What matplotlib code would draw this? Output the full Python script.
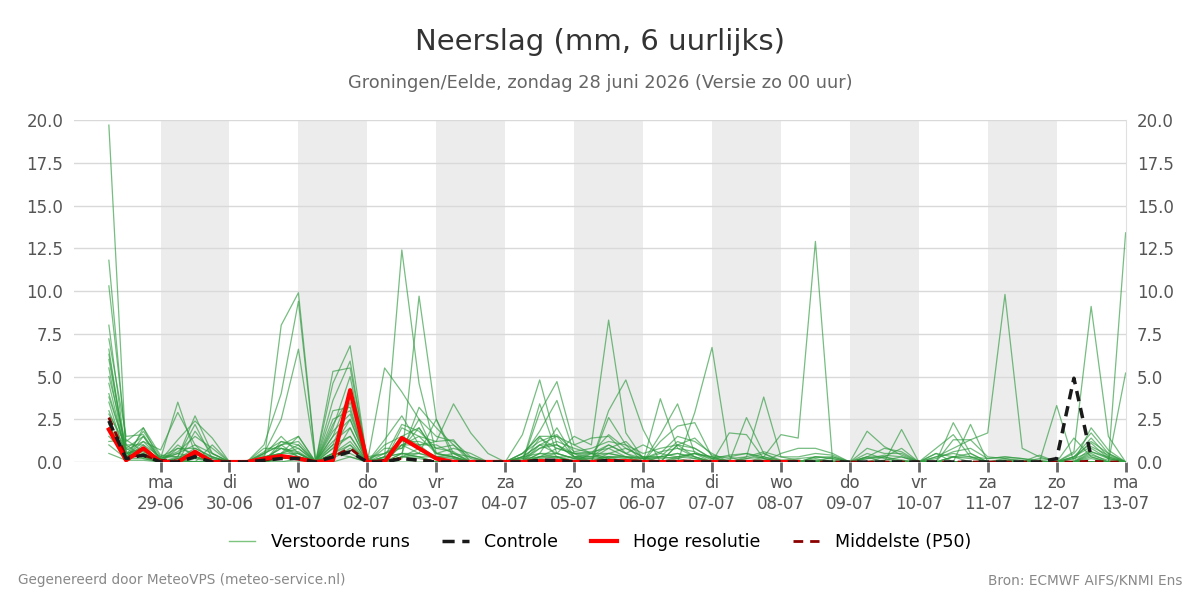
import numpy as np
import pandas as pd
import matplotlib
matplotlib.use("Agg")
import matplotlib.pyplot as plt
from matplotlib.lines import Line2D

# 6-hourly time steps, 28-06 06:00 .. 13-07 00:00
times = pd.date_range("2026-06-28 06:00", periods=60, freq="6h")

# perturbed ensemble members (mm per 6 h)
runs = [
    [19.7, 0.5, 0.3, 0.0, 0.2, 0.0, 0.0, 0.0, 0.0, 0.2, 0.5, 1.5, 0.0, 2.5, 3.0, 0.0,
     0.3, 12.4, 4.6, 0.5, 0.3, 0.0, 0.0, 0.0, 0.3, 1.0, 0.5, 0.2, 0.1, 0.3, 0.2, 0.0,
     0.3, 0.2, 0.0, 0.0, 0.1, 0.0, 0.0, 0.0, 0.0, 0.2, 0.0, 0.0, 0.0, 0.0, 0.1, 0.0,
     0.0, 0.3, 0.2, 0.0, 0.1, 0.0, 0.0, 0.0, 0.3, 1.1, 0.2, 0.0],
    [11.8, 0.8, 1.5, 0.2, 3.5, 0.5, 0.2, 0.0, 0.0, 0.0, 8.0, 9.9, 0.1, 1.0, 1.5, 0.0,
     0.0, 1.0, 0.5, 0.2, 0.0, 0.0, 0.0, 0.0, 0.0, 0.3, 0.5, 1.5, 1.0, 8.3, 1.7, 0.2,
     0.0, 0.3, 0.5, 0.2, 0.0, 0.0, 0.2, 0.0, 0.1, 0.0, 0.0, 0.0, 0.2, 0.3, 0.1, 0.0,
     0.0, 0.0, 0.0, 0.0, 0.0, 0.0, 0.2, 0.1, 0.0, 0.4, 0.1, 0.0],
    [10.3, 1.2, 2.0, 0.4, 0.3, 2.7, 0.5, 0.0, 0.0, 1.0, 4.0, 9.4, 0.0, 0.5, 0.3, 0.0,
     0.0, 0.2, 9.7, 2.5, 0.5, 0.0, 0.0, 0.0, 0.5, 1.5, 0.3, 0.0, 0.0, 0.5, 0.3, 0.0,
     0.0, 1.0, 0.3, 0.0, 1.7, 1.6, 0.2, 0.0, 0.0, 0.1, 0.0, 0.0, 0.0, 0.1, 0.3, 0.0,
     0.8, 1.6, 0.3, 0.0, 0.0, 0.0, 0.0, 0.0, 0.2, 0.6, 0.3, 0.0],
    [8.0, 0.3, 1.2, 0.7, 2.9, 1.0, 0.0, 0.0, 0.0, 0.5, 2.5, 6.6, 0.0, 5.3, 5.5, 0.2,
     0.0, 2.0, 1.5, 1.2, 3.4, 1.7, 0.5, 0.0, 0.0, 2.9, 4.7, 1.0, 0.5, 0.2, 0.0, 0.0,
     3.7, 0.8, 0.3, 0.0, 0.0, 0.2, 0.5, 0.1, 0.0, 0.0, 0.3, 0.0, 1.8, 0.9, 0.4, 0.0,
     0.0, 0.0, 0.0, 0.0, 0.0, 0.0, 0.4, 0.0, 0.0, 2.0, 0.7, 0.0],
    [7.2, 1.5, 1.6, 0.1, 1.3, 2.4, 1.4, 0.0, 0.0, 0.0, 1.2, 1.0, 0.0, 4.6, 6.8, 0.0,
     5.5, 4.1, 2.5, 0.3, 0.2, 0.0, 0.0, 0.0, 1.6, 4.8, 1.0, 0.3, 0.0, 0.3, 0.0, 0.0,
     0.0, 0.0, 2.9, 6.7, 0.3, 0.0, 0.0, 0.0, 0.0, 0.0, 0.0, 0.0, 0.0, 0.0, 0.0, 0.0,
     0.0, 2.3, 0.5, 0.0, 0.0, 0.0, 0.0, 0.0, 0.6, 9.1, 1.5, 0.0],
    [6.6, 0.2, 0.5, 0.0, 0.0, 0.0, 0.0, 0.0, 0.0, 0.4, 1.5, 0.5, 0.0, 3.6, 5.9, 0.0,
     0.0, 0.5, 3.2, 2.0, 1.0, 0.0, 0.0, 0.0, 0.0, 3.4, 0.5, 0.2, 0.0, 3.0, 4.8, 1.9,
     0.0, 0.0, 0.0, 0.0, 0.0, 2.6, 0.5, 0.0, 0.0, 0.0, 0.0, 0.0, 0.0, 0.0, 0.0, 0.0,
     0.5, 0.0, 0.0, 0.0, 0.0, 0.0, 0.0, 3.3, 0.0, 0.2, 0.0, 13.4],
    [6.0, 0.5, 0.8, 0.0, 0.0, 1.8, 0.5, 0.0, 0.0, 0.0, 1.0, 1.5, 0.0, 2.0, 5.0, 0.0,
     1.3, 2.7, 1.0, 0.2, 0.0, 0.0, 0.0, 0.0, 0.3, 1.8, 3.6, 0.5, 0.0, 2.6, 1.0, 0.0,
     1.6, 3.4, 0.5, 0.0, 0.0, 0.0, 0.0, 0.0, 0.0, 0.0, 0.0, 0.0, 0.0, 0.0, 1.9, 0.0,
     0.0, 0.0, 2.2, 0.0, 0.0, 0.0, 0.0, 0.0, 0.0, 0.5, 0.0, 5.2],
    [5.5, 0.1, 2.0, 0.0, 0.8, 0.5, 0.0, 0.0, 0.0, 0.8, 0.8, 0.3, 0.0, 1.5, 4.0, 0.0,
     1.0, 1.5, 1.0, 1.2, 1.3, 0.0, 0.0, 0.0, 0.0, 1.0, 1.5, 1.0, 1.4, 1.5, 0.5, 0.0,
     1.2, 2.1, 2.3, 0.3, 0.0, 0.3, 3.8, 0.3, 0.1, 0.0, 0.0, 0.0, 0.5, 0.2, 0.0, 0.0,
     0.0, 0.3, 0.0, 0.0, 0.0, 0.0, 0.0, 0.0, 1.4, 0.3, 0.0, 0.0],
    [5.0, 1.0, 1.0, 0.0, 0.0, 0.0, 1.0, 0.0, 0.0, 0.0, 0.2, 0.3, 0.0, 0.5, 1.2, 0.0,
     0.0, 0.3, 0.2, 0.0, 0.0, 0.0, 0.0, 0.0, 0.0, 0.5, 0.3, 0.0, 0.5, 0.0, 0.0, 0.0,
     0.0, 0.0, 0.0, 0.0, 0.0, 0.0, 0.3, 1.6, 1.4, 12.9, 0.0, 0.0, 0.0, 0.0, 0.0, 0.0,
     0.0, 0.0, 0.0, 0.0, 0.0, 0.0, 0.0, 0.0, 0.0, 0.0, 0.0, 0.0],
    [4.6, 0.3, 0.6, 0.2, 0.5, 0.3, 0.0, 0.0, 0.0, 0.3, 0.5, 0.8, 0.0, 1.0, 3.5, 0.2,
     0.5, 1.0, 1.5, 0.5, 0.8, 0.5, 0.0, 0.0, 0.3, 0.5, 2.0, 0.3, 0.3, 1.0, 0.5, 1.0,
     0.5, 1.5, 1.2, 0.5, 0.0, 0.0, 0.0, 0.5, 0.8, 0.8, 0.5, 0.0, 0.0, 0.0, 0.0, 0.0,
     0.0, 1.3, 1.3, 1.7, 9.8, 0.8, 0.3, 0.0, 0.0, 0.0, 0.0, 0.0],
    [4.0, 0.6, 0.4, 0.0, 0.3, 2.2, 0.2, 0.0, 0.0, 0.0, 0.3, 0.5, 0.0, 0.8, 2.5, 0.0,
     0.5, 0.8, 2.0, 0.5, 0.3, 0.0, 0.0, 0.0, 0.0, 0.8, 1.0, 0.3, 0.2, 0.8, 0.3, 0.2,
     0.3, 0.5, 0.2, 0.0, 0.0, 0.0, 0.0, 0.0, 0.0, 0.3, 0.2, 0.0, 0.3, 0.0, 0.0, 0.0,
     0.3, 0.5, 0.3, 0.2, 0.3, 0.2, 0.1, 0.0, 0.5, 1.7, 0.5, 0.0],
    [3.5, 0.2, 1.5, 0.0, 1.0, 0.3, 0.0, 0.0, 0.0, 0.0, 0.3, 0.3, 0.1, 1.2, 2.0, 0.0,
     0.3, 0.5, 0.5, 2.5, 0.2, 0.0, 0.0, 0.0, 0.2, 0.3, 0.8, 0.5, 0.3, 0.5, 0.8, 0.3,
     0.0, 0.2, 0.5, 0.3, 0.0, 0.0, 0.0, 0.0, 0.0, 0.0, 0.0, 0.0, 0.0, 0.0, 0.0, 0.0,
     0.0, 0.0, 0.0, 0.0, 0.0, 0.0, 0.0, 0.0, 0.3, 1.4, 0.3, 0.0],
    [3.0, 0.5, 0.8, 0.1, 0.5, 1.0, 0.5, 0.0, 0.0, 0.2, 0.8, 0.5, 0.0, 0.8, 1.5, 0.0,
     0.3, 0.5, 0.3, 0.3, 0.5, 0.3, 0.0, 0.0, 0.5, 1.5, 1.5, 0.3, 0.5, 1.0, 0.5, 0.2,
     0.5, 0.3, 0.5, 0.3, 0.3, 0.5, 0.2, 0.0, 0.0, 0.3, 0.3, 0.0, 0.3, 0.3, 0.8, 0.0,
     0.5, 0.3, 0.3, 0.0, 0.2, 0.0, 0.0, 0.0, 0.0, 0.3, 0.0, 0.0],
    [2.8, 1.0, 0.3, 0.0, 0.0, 0.3, 0.0, 0.0, 0.0, 0.5, 1.0, 0.3, 0.0, 0.5, 1.0, 0.0,
     0.2, 1.5, 2.0, 0.5, 0.3, 0.0, 0.0, 0.0, 0.0, 0.5, 0.5, 0.2, 0.2, 0.3, 0.3, 0.0,
     0.0, 1.0, 0.8, 0.2, 0.1, 0.0, 0.0, 0.0, 0.0, 0.0, 0.0, 0.0, 0.0, 0.0, 0.0, 0.0,
     0.0, 0.0, 0.0, 0.0, 0.0, 0.0, 0.0, 0.0, 0.0, 0.8, 0.2, 0.0],
    [2.5, 0.3, 1.0, 0.3, 0.3, 0.5, 0.3, 0.0, 0.0, 0.3, 0.5, 1.0, 0.0, 1.5, 2.5, 0.0,
     0.0, 1.0, 1.0, 1.0, 0.5, 0.0, 0.0, 0.0, 0.3, 1.0, 1.0, 0.5, 0.5, 0.5, 0.3, 0.3,
     0.3, 0.5, 0.3, 0.0, 0.0, 0.0, 0.0, 0.0, 0.0, 0.0, 0.0, 0.0, 0.0, 0.3, 0.0, 0.0,
     0.0, 0.0, 0.0, 0.0, 0.0, 0.0, 0.0, 0.0, 0.0, 0.0, 0.0, 0.0],
    [2.2, 0.2, 0.5, 0.0, 0.2, 0.5, 0.0, 0.0, 0.0, 0.0, 0.2, 0.3, 0.0, 0.3, 1.0, 0.0,
     0.0, 0.3, 0.5, 0.3, 0.3, 0.0, 0.0, 0.0, 0.0, 0.3, 0.3, 0.1, 0.0, 0.0, 0.0, 0.0,
     0.0, 0.0, 0.0, 0.0, 0.0, 0.0, 0.0, 0.0, 0.0, 0.0, 0.0, 0.0, 0.0, 0.0, 0.0, 0.0,
     0.0, 0.0, 0.0, 0.0, 0.0, 0.0, 0.0, 0.0, 0.0, 0.0, 0.0, 0.0],
    [2.0, 0.8, 0.2, 0.0, 0.0, 0.0, 0.0, 0.0, 0.0, 0.0, 0.0, 0.2, 0.0, 0.3, 2.0, 0.0,
     0.0, 0.3, 0.8, 0.3, 0.0, 0.0, 0.0, 0.0, 0.0, 0.3, 0.3, 0.3, 0.3, 0.3, 0.3, 0.2,
     0.2, 0.3, 0.2, 0.0, 0.0, 0.0, 0.0, 0.0, 0.0, 0.0, 0.0, 0.0, 0.0, 0.0, 0.0, 0.0,
     0.0, 0.0, 0.0, 0.0, 0.0, 0.0, 0.0, 0.0, 0.0, 0.0, 0.0, 0.0],
    [1.5, 0.5, 0.3, 0.0, 0.0, 0.2, 0.0, 0.0, 0.0, 0.3, 0.5, 0.5, 0.0, 0.5, 0.5, 0.0,
     0.0, 0.3, 0.3, 0.0, 0.0, 0.0, 0.0, 0.0, 0.0, 0.2, 0.3, 0.0, 0.0, 0.0, 0.0, 0.0,
     0.0, 0.0, 0.0, 0.0, 0.0, 0.0, 0.0, 0.0, 0.0, 0.0, 0.0, 0.0, 0.0, 0.0, 0.0, 0.0,
     0.0, 0.0, 0.0, 0.0, 0.0, 0.0, 0.0, 0.0, 0.0, 0.0, 0.0, 0.0],
    [1.0, 0.2, 0.2, 0.0, 0.0, 0.0, 0.0, 0.0, 0.0, 0.0, 0.3, 0.2, 0.0, 0.2, 0.8, 0.0,
     0.0, 0.5, 0.3, 0.0, 0.0, 0.0, 0.0, 0.0, 0.0, 0.0, 0.2, 0.0, 0.0, 0.2, 0.0, 0.0,
     0.0, 0.0, 0.0, 0.0, 0.0, 0.0, 0.0, 0.0, 0.0, 0.0, 0.0, 0.0, 0.0, 0.0, 0.0, 0.0,
     0.0, 0.0, 0.0, 0.0, 0.0, 0.0, 0.0, 0.0, 0.0, 0.0, 0.0, 0.0],
    [0.5, 0.1, 0.1, 0.0, 0.0, 0.0, 0.0, 0.0, 0.0, 0.0, 0.0, 0.0, 0.0, 0.0, 0.3, 0.0,
     0.0, 0.0, 0.0, 0.0, 0.0, 0.0, 0.0, 0.0, 0.0, 0.0, 0.0, 0.0, 0.0, 0.0, 0.0, 0.0,
     0.0, 0.0, 0.0, 0.0, 0.0, 0.0, 0.0, 0.0, 0.0, 0.0, 0.0, 0.0, 0.0, 0.0, 0.0, 0.0,
     0.0, 0.0, 0.0, 0.0, 0.0, 0.0, 0.0, 0.0, 0.0, 0.0, 0.0, 0.0],
    [3.8, 0.7, 1.2, 0.2, 0.6, 1.5, 0.8, 0.0, 0.0, 0.6, 1.2, 0.8, 0.0, 3.0, 3.2, 0.0,
     0.8, 0.8, 2.5, 1.5, 1.2, 0.3, 0.0, 0.0, 0.5, 1.2, 1.6, 0.6, 0.8, 1.2, 1.0, 0.5,
     0.8, 1.0, 1.4, 0.4, 0.2, 0.3, 0.6, 0.3, 0.3, 0.5, 0.4, 0.0, 0.8, 0.5, 0.5, 0.0,
     0.3, 0.8, 1.3, 0.3, 0.2, 0.1, 0.0, 0.0, 0.2, 1.2, 0.5, 0.0],
    [6.3, 0.4, 1.8, 0.3, 0.8, 0.8, 0.3, 0.0, 0.0, 0.5, 1.0, 1.2, 0.0, 2.2, 3.8, 0.3,
     0.5, 1.2, 1.2, 0.8, 1.0, 0.2, 0.0, 0.0, 0.2, 0.8, 1.2, 0.8, 0.5, 1.6, 0.8, 0.3,
     0.3, 1.2, 0.8, 0.2, 0.4, 0.5, 0.3, 0.1, 0.2, 0.3, 0.2, 0.0, 0.3, 0.8, 0.6, 0.0,
     0.2, 0.6, 0.8, 0.2, 0.3, 0.2, 0.0, 0.0, 0.3, 0.9, 0.4, 0.0],
    [1.2, 1.3, 0.6, 0.0, 0.2, 0.8, 0.3, 0.0, 0.0, 0.2, 0.8, 0.6, 0.0, 1.8, 2.8, 0.0,
     0.3, 2.2, 1.8, 0.8, 0.6, 0.0, 0.0, 0.0, 0.0, 1.4, 0.8, 0.5, 0.6, 0.8, 1.2, 0.2,
     0.6, 0.8, 0.6, 0.1, 0.0, 0.2, 0.3, 0.0, 0.0, 0.1, 0.1, 0.0, 0.2, 0.4, 0.3, 0.0,
     0.0, 0.3, 0.5, 0.0, 0.1, 0.0, 0.0, 0.0, 0.0, 0.6, 0.2, 0.0],
]

# control run (ends 12-07 18:00)
control = [2.4, 0.2, 0.4, 0.0, 0.0, 0.3, 0.0, 0.0, 0.0, 0.1, 0.2, 0.2, 0.0, 0.3, 0.6, 0.0,
           0.0, 0.2, 0.1, 0.0, 0.0, 0.0, 0.0, 0.0, 0.0, 0.1, 0.1, 0.0, 0.0, 0.1, 0.0, 0.0,
           0.0, 0.0, 0.0, 0.0, 0.0, 0.0, 0.0, 0.0, 0.0, 0.0, 0.0, 0.0, 0.0, 0.0, 0.0, 0.0,
           0.0, 0.0, 0.0, 0.0, 0.0, 0.0, 0.0, 0.2, 4.9, 0.3]

# high resolution run (10 days)
hres = [1.9, 0.1, 0.8, 0.0, 0.0, 0.6, 0.0, 0.0, 0.0, 0.2, 0.35, 0.2, 0.0, 0.1, 4.2, 0.0,
        0.0, 1.4, 0.8, 0.2, 0.0, 0.0, 0.0, 0.0, 0.0, 0.05, 0.05, 0.0, 0.0, 0.05, 0.05, 0.0,
        0.0, 0.0, 0.0, 0.0, 0.0, 0.0, 0.0, 0.0, 0.0]

# median (P50)
p50 = [2.6, 0.3, 0.4, 0.1, 0.05, 0.4, 0.1, 0.0, 0.0, 0.1, 0.3, 0.2, 0.0, 0.3, 0.8, 0.0,
       0.1, 0.2, 0.1, 0.05, 0.05, 0.0, 0.0, 0.0, 0.0, 0.1, 0.1, 0.05, 0.0, 0.1, 0.05, 0.0,
       0.0, 0.05, 0.05, 0.0, 0.0, 0.0, 0.0, 0.0, 0.0, 0.0, 0.0, 0.0, 0.0, 0.0, 0.0, 0.0,
       0.0, 0.0, 0.0, 0.0, 0.0, 0.0, 0.0, 0.0, 0.0, 0.05, 0.0, 0.0]

day_names = ["ma", "di", "wo", "do", "vr", "za", "zo"]
days = pd.date_range("2026-06-29", "2026-07-13", freq="D")

fig = plt.figure(figsize=(12, 6), dpi=100)
ax = fig.add_axes([0.062, 0.23, 0.876, 0.57])

# alternating day shading
for d in days[::2][:-1]:
    ax.axvspan(d, d + pd.Timedelta(days=1), color="#ececec", zorder=0, lw=0)

for r in runs:
    ax.plot(times, r, color="#2e9a3e", alpha=0.65, lw=0.9, zorder=2)
ax.plot(times, p50, color="#8b0000", lw=2, ls=(0, (3, 2.5)), zorder=3)
ax.plot(times[:len(hres)], hres, color="#ff0000", lw=3, zorder=4)
ax.plot(times[:len(control)], control, color="#1a1a1a", lw=2.5, ls=(0, (3, 2)), zorder=5)

ax.set_xlim(pd.Timestamp("2026-06-27 18:00"), pd.Timestamp("2026-07-13 00:00"))
ax.set_ylim(0, 20)
ax.set_yticks(np.arange(0, 20.1, 2.5))
ax.yaxis.set_major_formatter(matplotlib.ticker.FormatStrFormatter("%.1f"))
ax.tick_params(axis="y", length=0, labelsize=12, colors="#555555", labelright=True, pad=8)
ax.grid(axis="y", color="#d9d9d9", lw=1, zorder=1)
ax.set_axisbelow(True)

ax.set_xticks(days)
ax.set_xticklabels([f"{day_names[d.weekday()]}\n{d.strftime('%d-%m')}" for d in days])
ax.tick_params(axis="x", length=7, width=2, color="#666666", labelsize=12,
               labelcolor="#555555", pad=2)

for s in ["top", "left", "bottom"]:
    ax.spines[s].set_visible(False)
ax.spines["right"].set_color("#e0e0e0")

fig.text(0.5, 0.93, "Neerslag (mm, 6 uurlijks)", ha="center", va="center",
         fontsize=21, color="#333333")
fig.text(0.5, 0.861, "Groningen/Eelde, zondag 28 juni 2026 (Versie zo 00 uur)",
         ha="center", va="center", fontsize=12.8, color="#666666")

handles = [
    Line2D([], [], color="#7cc47f", lw=1),
    Line2D([], [], color="#1a1a1a", lw=2.5, ls=(0, (3.5, 2.2))),
    Line2D([], [], color="#ff0000", lw=3),
    Line2D([], [], color="#8b0000", lw=2, ls=(0, (3.5, 2.5))),
]
labels = ["Verstoorde runs", "Controle", "Hoge resolutie", "Middelste (P50)"]
fig.legend(handles, labels, loc="center", bbox_to_anchor=(0.5, 0.097), ncol=4,
           frameon=False, fontsize=12.5, handlelength=1.5, handletextpad=0.9,
           columnspacing=1.9)

fig.text(0.015, 0.033, "Gegenereerd door MeteoVPS (meteo-service.nl)", ha="left",
         va="center", fontsize=9.8, color="#888888")
fig.text(0.985, 0.033, "Bron: ECMWF AIFS/KNMI Ens", ha="right", va="center",
         fontsize=9.8, color="#888888")

fig.savefig("out.png", dpi=100)
